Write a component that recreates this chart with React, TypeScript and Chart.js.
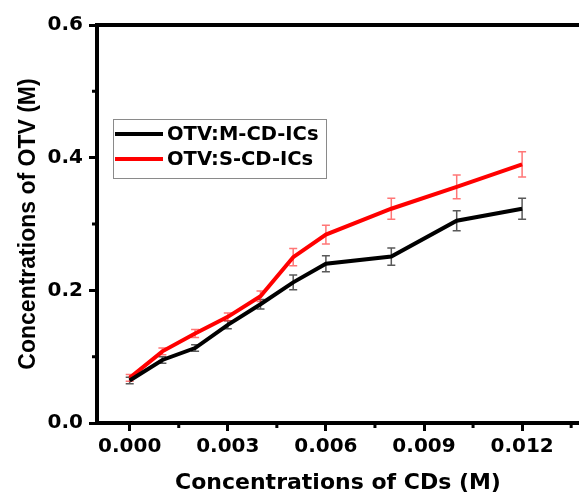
import React, { useEffect, useRef } from "react";
import { Chart, registerables } from "chart.js";

Chart.register(...registerables);

const xValues = [0, 0.001, 0.002, 0.003, 0.004, 0.005, 0.006, 0.008, 0.01, 0.012];
const mValues = [0.064, 0.095, 0.113, 0.148, 0.179, 0.212, 0.24, 0.251, 0.305, 0.323];
const mErrors = [0.005, 0.005, 0.005, 0.006, 0.007, 0.011, 0.012, 0.013, 0.015, 0.016];
const sValues = [0.068, 0.108, 0.135, 0.16, 0.191, 0.25, 0.284, 0.323, 0.356, 0.39];
const sErrors = [0.005, 0.005, 0.006, 0.006, 0.008, 0.013, 0.014, 0.016, 0.018, 0.019];

const xMajorTicks = [0, 0.003, 0.006, 0.009, 0.012];
const xMinorTicks = [0.0015, 0.0045, 0.0075, 0.0105, 0.0135];
const yMajorTicks = [0, 0.2, 0.4, 0.6];
const yMinorTicks = [0.1, 0.3, 0.5];

const seriesLabels = ["OTV:M-CD-ICs", "OTV:S-CD-ICs"];
const seriesColors = ["#000000", "#ff0000"];
const errorColors = ["rgba(60,60,60,0.85)", "rgba(255,60,60,0.7)"];
const errorSets = [mErrors, sErrors];

const WIDE = "'DejaVu Sans', sans-serif";
const NARROW = "'Liberation Sans', Arial, sans-serif";

const errorBarPlugin = {
  id: "errorBars",
  beforeDatasetsDraw(chart: any) {
    const ctx = chart.ctx;
    const xs = chart.scales.x;
    const ys = chart.scales.y;
    chart.data.datasets.forEach((ds: any, i: number) => {
      const errs = errorSets[i];
      ctx.save();
      ctx.strokeStyle = errorColors[i];
      ctx.lineWidth = 1.5;
      ds.data.forEach((p: any, j: number) => {
        const px = xs.getPixelForValue(p.x);
        const top = ys.getPixelForValue(p.y + errs[j]);
        const bot = ys.getPixelForValue(p.y - errs[j]);
        ctx.beginPath();
        ctx.moveTo(px, top);
        ctx.lineTo(px, bot);
        ctx.moveTo(px - 4, top);
        ctx.lineTo(px + 4, top);
        ctx.moveTo(px - 4, bot);
        ctx.lineTo(px + 4, bot);
        ctx.stroke();
      });
      ctx.restore();
    });
  },
};

const framePlugin = {
  id: "frame",
  afterDraw(chart: any) {
    const ctx = chart.ctx;
    const { left, right, top, bottom } = chart.chartArea;
    const xs = chart.scales.x;
    const ys = chart.scales.y;
    ctx.save();
    ctx.strokeStyle = "#000";
    ctx.lineWidth = 4;
    ctx.beginPath();
    ctx.moveTo(left - 2, top);
    ctx.lineTo(right + 2, top);
    ctx.stroke();
    ctx.lineWidth = 3;
    ctx.beginPath();
    xMinorTicks.forEach((v) => {
      const px = xs.getPixelForValue(v);
      ctx.moveTo(px, bottom);
      ctx.lineTo(px, bottom + 5);
    });
    yMinorTicks.forEach((v) => {
      const py = ys.getPixelForValue(v);
      ctx.moveTo(left, py);
      ctx.lineTo(left - 5, py);
    });
    ctx.stroke();

    // legend
    const bx = 113, by = 119, bw = 213, bh = 59;
    ctx.fillStyle = "#fff";
    ctx.fillRect(bx, by, bw, bh);
    ctx.strokeStyle = "#8a8a8a";
    ctx.lineWidth = 1;
    ctx.strokeRect(bx + 0.5, by + 0.5, bw, bh);
    const rows = [134, 159];
    chart.data.datasets.forEach((ds: any, i: number) => {
      ctx.strokeStyle = seriesColors[i];
      ctx.lineWidth = 4;
      ctx.beginPath();
      ctx.moveTo(115, rows[i]);
      ctx.lineTo(163, rows[i]);
      ctx.stroke();
      ctx.fillStyle = "#000";
      ctx.font = `bold 19.5px ${WIDE}`;
      ctx.textBaseline = "middle";
      ctx.textAlign = "left";
      ctx.fillText(ds.label, 167, rows[i] + 1);
    });
    ctx.restore();
  },
};

export default function App() {
  const ref = useRef<HTMLCanvasElement | null>(null);
  useEffect(() => {
    if (!ref.current) return;
    const chart = new Chart(ref.current, {
      type: "line",
      data: {
        datasets: [
          {
            label: seriesLabels[0],
            data: xValues.map((x, i) => ({ x, y: mValues[i] })),
            borderColor: seriesColors[0],
            borderWidth: 4,
            pointRadius: 0,
            fill: false,
            tension: 0,
          },
          {
            label: seriesLabels[1],
            data: xValues.map((x, i) => ({ x, y: sValues[i] })),
            borderColor: seriesColors[1],
            borderWidth: 4,
            pointRadius: 0,
            fill: false,
            tension: 0,
          },
        ],
      },
      options: {
        responsive: false,
        animation: false,
        layout: { padding: { top: 25, right: 0, left: 0, bottom: 0 } },
        plugins: { legend: { display: false }, tooltip: { enabled: false } },
        scales: {
          x: {
            type: "linear",
            min: -0.001,
            max: 0.01374,
            afterBuildTicks: (s: any) => {
              s.ticks = xMajorTicks.map((v) => ({ value: v }));
            },
            afterFit: (s: any) => {
              s.height = 73;
            },
            grid: { drawOnChartArea: false, tickLength: 8, tickWidth: 3, tickColor: "#000" },
            border: { display: true, color: "#000", width: 4 },
            ticks: {
              color: "#000",
              font: { family: WIDE, size: 20, weight: "bold" },
              padding: 4,
              maxRotation: 0,
              callback: (v: any) => Number(v).toFixed(3),
            },
            title: {
              display: true,
              text: "Concentrations of CDs (M)",
              color: "#000",
              font: { family: WIDE, size: 22, weight: "bold" },
              padding: { top: 0, bottom: 0 },
            },
          },
          y: {
            min: 0,
            max: 0.6,
            afterBuildTicks: (s: any) => {
              s.ticks = yMajorTicks.map((v) => ({ value: v }));
            },
            afterFit: (s: any) => {
              s.width = 97;
            },
            grid: { drawOnChartArea: false, tickLength: 8, tickWidth: 3, tickColor: "#000" },
            border: { display: true, color: "#000", width: 4 },
            ticks: {
              color: "#000",
              font: { family: WIDE, size: 20, weight: "bold" },
              padding: 6,
              callback: (v: any) => Number(v).toFixed(1),
            },
            title: {
              display: true,
              text: "Concentrations of OTV (M)",
              color: "#000",
              font: { family: NARROW, size: 23, weight: "bold" },
              padding: { top: 15, bottom: 0 },
            },
          },
        },
      },
      plugins: [errorBarPlugin, framePlugin],
    } as any);
    return () => chart.destroy();
  }, []);
  return (
    <div style={{ position: "fixed", left: 0, top: 0, width: 579, height: 496, background: "#fff" }}>
      <canvas ref={ref} width={579} height={496} />
    </div>
  );
}
